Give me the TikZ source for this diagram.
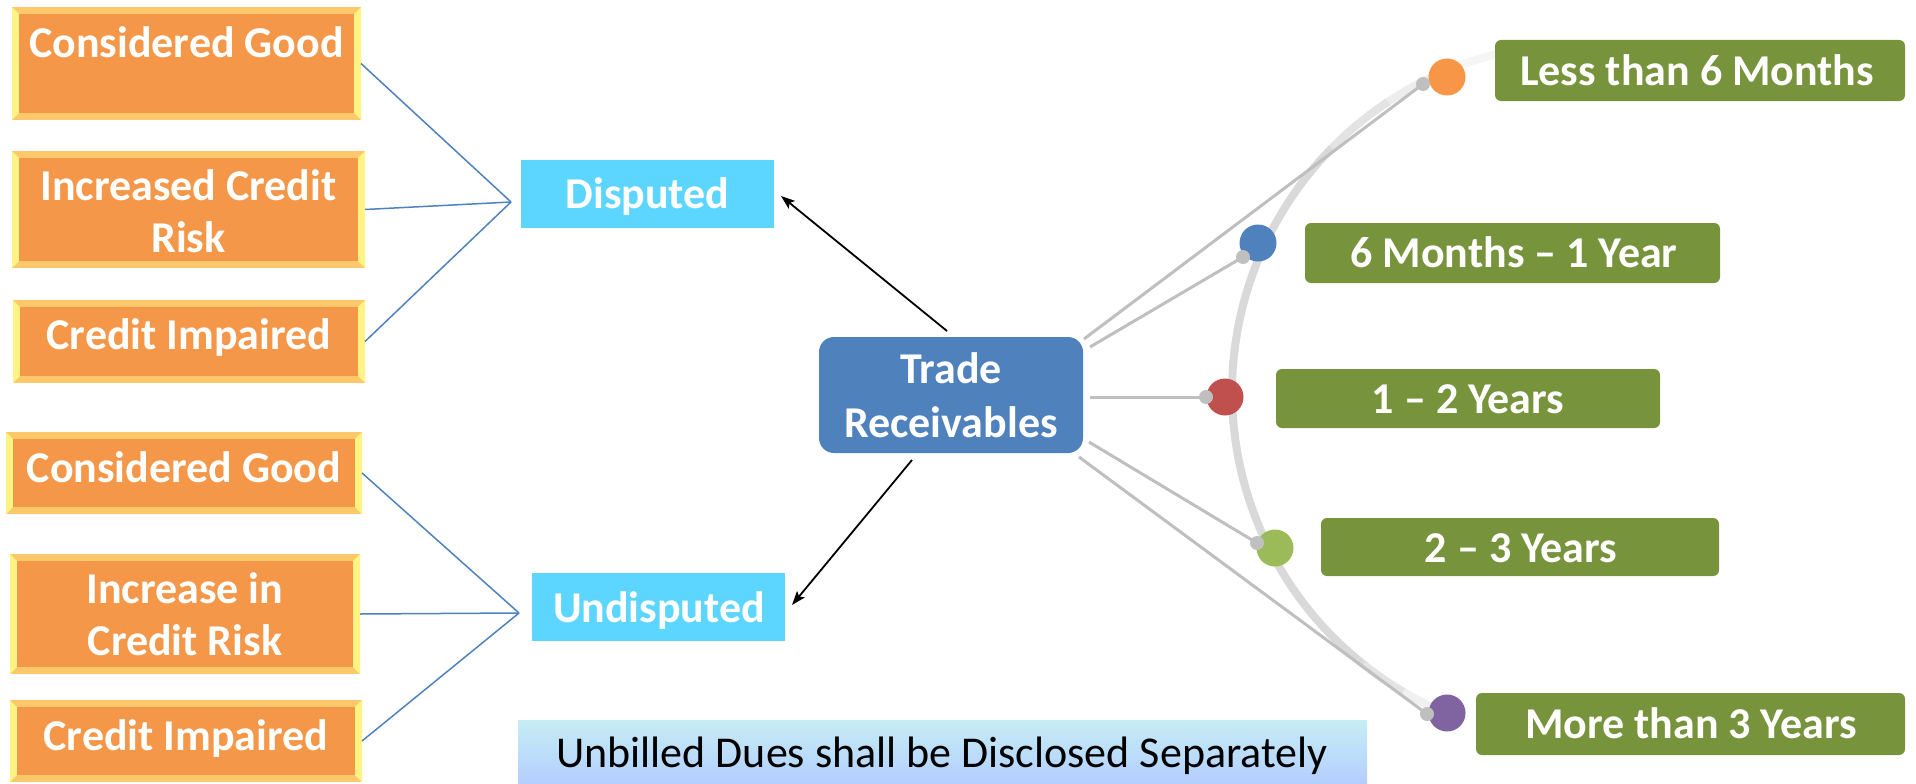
\documentclass[tikz,border=0pt]{standalone}
\usepackage{fontspec}
\setmainfont{Carlito}
\usetikzlibrary{calc,arrows.meta}
\definecolor{orgin}{HTML}{F59749}
\definecolor{bevtop}{HTML}{FDC86A}
\definecolor{bevside}{HTML}{FFF383}
\definecolor{cyanfill}{HTML}{5DD6FF}
\definecolor{trblue}{HTML}{4F81BD}
\definecolor{olive}{HTML}{77933C}
\definecolor{dotorange}{HTML}{F79646}
\definecolor{dotblue}{HTML}{4F81BD}
\definecolor{dotred}{HTML}{C0504D}
\definecolor{dotgreen}{HTML}{9BBB59}
\definecolor{dotpurple}{HTML}{8064A2}
\definecolor{knobgray}{HTML}{BFBFBF}
\definecolor{arcgray}{HTML}{D9D9D9}
\definecolor{bantop}{HTML}{C6EDF3}
\definecolor{banbot}{HTML}{B3CEFF}
\begin{document}
\begin{tikzpicture}[x=1pt,y=-1pt,
  bevbox/.style={fill=bevtop, inner sep=0pt, outer sep=0pt,
    path picture={
      \fill[bevside] (path picture bounding box.north west) -- ([xshift=7pt,yshift=-7pt]path picture bounding box.north west) -- ([xshift=7pt,yshift=7pt]path picture bounding box.south west) -- (path picture bounding box.south west) -- cycle;
      \fill[bevside] (path picture bounding box.north east) -- ([xshift=-7pt,yshift=-7pt]path picture bounding box.north east) -- ([xshift=-7pt,yshift=7pt]path picture bounding box.south east) -- (path picture bounding box.south east) -- cycle;
      \fill[orgin] ([xshift=7pt,yshift=-7pt]path picture bounding box.north west) rectangle ([xshift=-7pt,yshift=7pt]path picture bounding box.south east);
    }},
  cyanbox/.style={fill=cyanfill, inner sep=0pt, outer sep=0pt},
  trbox/.style={fill=trblue, rounded corners=15pt, inner sep=0pt, outer sep=0pt},
  greenbox/.style={fill=olive, rounded corners=6pt, inner sep=0pt, outer sep=0pt},
  wtxt/.style={text=white, font=\bfseries\fontsize{44pt}{53pt}\selectfont, anchor=base, inner sep=0pt},
  dot/.style={circle, inner sep=0pt, minimum size=37pt},
  knob/.style={circle, fill=knobgray, inner sep=0pt, minimum size=14pt},
  gline/.style={draw=knobgray, line width=3pt},
  bline/.style={draw=trblue, line width=1.5pt},
  arr/.style={draw=black, line width=1.8pt, -{Stealth[length=14pt,width=10pt,inset=3pt]}},
  arcline/.style={line width=8pt}
]
\useasboundingbox (0,0) rectangle (1916,784);

% ---- arc ----
\draw[arcline, draw=black!4] plot[domain=256:247,samples=12] ({1580+348*cos(\x)},{392+348*sin(\x)});
\draw[arcline, draw=black!7] plot[domain=247.5:236,samples=12] ({1580+348*cos(\x)},{392+348*sin(\x)});
\draw[arcline, draw=black!11] plot[domain=236.5:224,samples=12] ({1580+348*cos(\x)},{392+348*sin(\x)});
\draw[arcline, draw=arcgray] plot[domain=224.5:128,samples=60] ({1580+348*cos(\x)},{392+348*sin(\x)});
\draw[arcline, draw=black!11] plot[domain=128.5:120,samples=10] ({1580+348*cos(\x)},{392+348*sin(\x)});
\draw[arcline, draw=black!6] plot[domain=120.5:113,samples=10] ({1580+348*cos(\x)},{392+348*sin(\x)});

% ---- left bevel boxes ----
\node[bevbox, minimum width=349pt, minimum height=113pt] (tl1) at (186.5,63.5) {};
\node[bevbox, minimum width=353pt, minimum height=117pt] (tl2) at (188.5,209.5) {};
\node[bevbox, minimum width=352pt, minimum height=83pt] (tl3) at (189,341.5) {};
\node[bevbox, minimum width=356pt, minimum height=82pt] (bl1) at (184,473) {};
\node[bevbox, minimum width=350pt, minimum height=120pt] (bl2) at (185,614) {};
\node[bevbox, minimum width=352pt, minimum height=82pt] (bl3) at (186,741) {};

\node[wtxt] (tl1t) at (186.5,57) {Considered Good};
\node[wtxt] (tl2a) at (188.5,200) {Increased Credit};
\node[wtxt] (tl2b) at (188.5,252) {Risk};
\node[wtxt] (tl3t) at (189,349) {Credit Impaired};
\node[wtxt] (bl1t) at (184,482) {Considered Good};
\node[wtxt] (bl2a) at (185,603) {Increase in};
\node[wtxt] (bl2b) at (185,655) {Credit Risk};
\node[wtxt] (bl3t) at (186,750) {Credit Impaired};

% ---- disputed / undisputed ----
\node[cyanbox, minimum width=253pt, minimum height=68pt] (disp) at (647.5,194) {};
\node[wtxt] (dispt) at (647.5,208) {Disputed};
\node[cyanbox, minimum width=253pt, minimum height=68pt] (undisp) at (658.5,607) {};
\node[wtxt] (undispt) at (659,622) {Undisputed};

\coordinate (jt) at (511,202);
\coordinate (jb) at (519,613);
\draw[bline] (tl1.east) -- (jt);
\draw[bline] (tl2.east) -- (jt);
\draw[bline] (tl3.east) -- (jt);
\draw[bline] (bl1.east) -- (jb);
\draw[bline] (bl2.east) -- (jb);
\draw[bline] (bl3.east) -- (jb);

% ---- trade receivables ----
\node[trbox, minimum width=264pt, minimum height=116pt] (tr) at (951,395) {};
\node[wtxt] (trt1) at (951,383) {Trade};
\node[wtxt] (trt2) at (951,437) {Receivables};

\coordinate (a1s) at ($(tr.north)+(-4,-6)$);
\coordinate (a1e) at ($(disp.east)+(7,2)$);
\coordinate (a2s) at ($(tr.south)+(-39,7)$);
\coordinate (a2e) at ($(undisp.east)+(7,-2)$);
\draw[arr] (a1s) -- (a1e);
\draw[arr] (a2s) -- (a2e);

% ---- dots and knobs ----
\coordinate (g1) at ($(tr.north east)+(1,2)$);
\coordinate (g2) at ($(tr.north east)+(7,10)$);
\coordinate (g3) at ($(tr.east)+(7,2)$);
\coordinate (g4) at ($(tr.south east)+(6,-11)$);
\coordinate (g5) at ($(tr.south east)+(-4,4)$);

\node[dot, fill=dotorange] (d1) at (1447,77) {};
\node[dot, fill=dotblue] (d2) at (1258,243) {};
\node[dot, fill=dotred] (d3) at (1225,397) {};
\node[dot, fill=dotgreen] (d4) at (1275,548) {};
\node[dot, fill=dotpurple] (d5) at (1447,713) {};

\node[knob] (k1) at (1423,84) {};
\node[knob] (k2) at (1243,257) {};
\node[knob] (k3) at (1206,397) {};
\node[knob] (k4) at (1257,543) {};
\node[knob] (k5) at (1427,714) {};

\draw[gline] (g1) -- (k1.center);
\draw[gline] (g2) -- (k2.center);
\draw[gline] (g3) -- (k3.center);
\draw[gline] (g4) -- (k4.center);
\draw[gline] (g5) -- (k5.center);

% ---- green boxes ----
\node[greenbox, minimum width=410pt, minimum height=61pt] (gb1) at (1700,70.5) {};
\node[wtxt] (gb1t) at (1697,85) {Less than 6 Months};
\node[greenbox, minimum width=415pt, minimum height=60pt] (gb2) at (1512.5,253) {};
\node[wtxt] (gb2t) at (1514,267) {6 Months – 1 Year};
\node[greenbox, minimum width=384pt, minimum height=59pt] (gb3) at (1468,398.5) {};
\node[wtxt] (gb3t) at (1468,413) {1 – 2 Years};
\node[greenbox, minimum width=398pt, minimum height=58pt] (gb4) at (1520,547) {};
\node[wtxt] (gb4t) at (1521,562) {2 – 3 Years};
\node[greenbox, minimum width=429pt, minimum height=62pt] (gb5) at (1690.5,724) {};
\node[wtxt] (gb5t) at (1691,738) {More than 3 Years};

% ---- banner ----
\node[inner sep=0pt, outer sep=0pt, minimum width=849pt, minimum height=64pt, top color=bantop, bottom color=banbot] (ban) at (942.5,752) {};
\node[font=\fontsize{44pt}{52pt}\selectfont, anchor=base, inner sep=0pt] (bant) at (942,767) {Unbilled Dues shall be Disclosed Separately};
\end{tikzpicture}
\end{document}
